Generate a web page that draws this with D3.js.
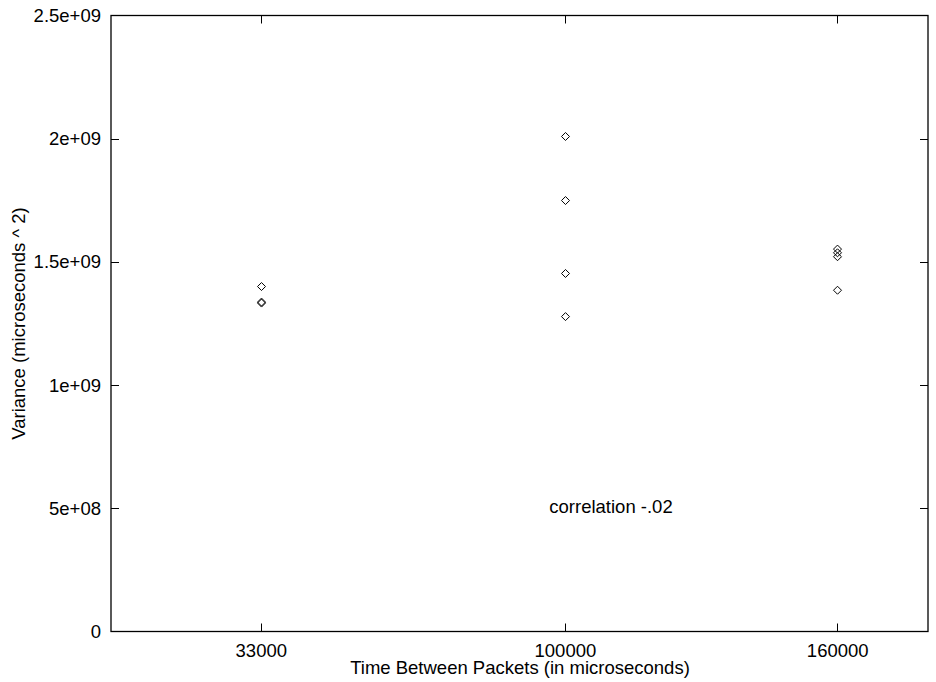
<!DOCTYPE html>
<html><head><meta charset="utf-8">
<script src="https://cdn.jsdelivr.net/npm/d3@7"></script>
<style>body{margin:0;background:#fff}text{font-family:"Liberation Sans",Arial,sans-serif;font-size:18.5px;fill:#000}</style>
</head><body>
<svg id="c" width="936" height="682"></svg>
<script>
const xTicks = [33000, 100000, 160000];
const yTicks = [0, 5e8, 1e9, 1.5e9, 2e9, 2.5e9];
const yTickLabels = ["0", "5e+08", "1e+09", "1.5e+09", "2e+09", "2.5e+09"];
const pointsX = [33000, 33000, 33000, 100000, 100000, 100000, 100000, 160000, 160000, 160000, 160000];
const pointsY = [1.400e9, 1.337e9, 1.333e9, 2.009e9, 1.749e9, 1.453e9, 1.278e9, 1.552e9, 1.537e9, 1.521e9, 1.385e9];
const xTitle = "Time Between Packets (in microseconds)";
const yTitle = "Variance (microseconds ^ 2)";
const note = "correlation -.02";

const L = 111, R = 928, T = 15.5, B = 631.5;
const FS = "18.5px";
const svg = d3.select("#c");
const x = d3.scaleLinear().domain([0, 180000]).range([L, R]);
const y = d3.scaleLinear().domain([0, 2.5e9]).range([B, T]);

const g = svg.append("g");
// bottom axis labels
const bx = g.append("g").attr("transform", `translate(0,${B})`)
  .call(d3.axisBottom(x).tickValues(xTicks).tickFormat(d3.format("d")).tickSize(0).tickPadding(12.6));
bx.select(".domain").remove();
bx.selectAll("text").style("font-size", FS).attr("font-family", null);
const ly = g.append("g").attr("transform", `translate(${L - 10},0)`)
  .call(d3.axisLeft(y).tickValues(yTicks).tickFormat((d, i) => yTickLabels[i]).tickSize(0).tickPadding(0));
ly.select(".domain").remove();
ly.selectAll("text").style("font-size", FS).attr("font-family", null);

// ticks (inward, mirrored)
const tk = g.append("g").attr("stroke", "#000").attr("stroke-width", 1);
xTicks.forEach(v => {
  const px = Math.round(x(v)) + 0.5;
  tk.append("line").attr("x1", px).attr("x2", px).attr("y1", B).attr("y2", B - 8);
  tk.append("line").attr("x1", px).attr("x2", px).attr("y1", T).attr("y2", T + 8);
});
yTicks.slice(1, -1).forEach(v => {
  const py = Math.round(y(v)) + 0.5;
  tk.append("line").attr("x1", L).attr("x2", L + 8).attr("y1", py).attr("y2", py);
  tk.append("line").attr("x1", R).attr("x2", R - 8).attr("y1", py).attr("y2", py);
});
// frame
g.append("rect").attr("x", L).attr("y", T).attr("width", R - L).attr("height", B - T)
  .attr("fill", "none").attr("stroke", "#000").attr("stroke-width", 1.3);

// points
const diamond = "M0,-4L4,0L0,4L-4,0Z";
g.append("g").selectAll("path").data(pointsX.map((d, i) => [d, pointsY[i]])).join("path")
  .attr("d", diamond)
  .attr("transform", d => `translate(${Math.round(x(d[0])) + 0.5},${y(d[1])})`)
  .attr("fill", "none").attr("stroke", "#000").attr("stroke-width", 1);

// labels
svg.append("text").attr("x", 520).attr("y", 674).attr("text-anchor", "middle").text(xTitle);
svg.append("text").attr("transform", `translate(25,${(T + B) / 2}) rotate(-90)`).attr("text-anchor", "middle").text(yTitle);
svg.append("text").attr("x", 611).attr("y", 513).attr("text-anchor", "middle").text(note);
</script>
</body></html>
